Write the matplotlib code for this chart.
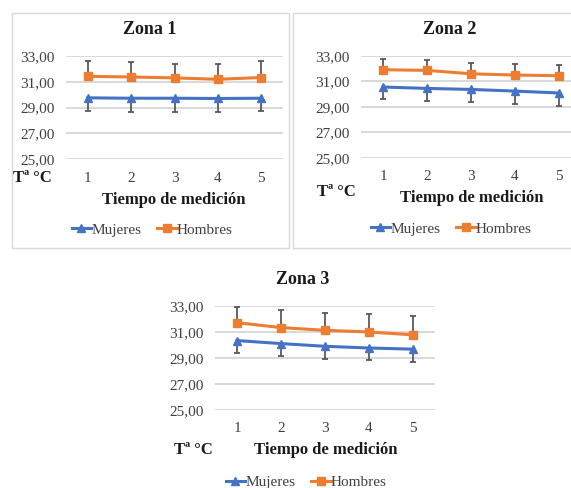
import matplotlib
matplotlib.use("Agg")
import matplotlib.pyplot as plt
from matplotlib.ticker import FuncFormatter
from matplotlib.lines import Line2D
from matplotlib.patches import Rectangle

plt.rcParams['font.family'] = ['Liberation Serif', 'DejaVu Serif']

tiempos = [1, 2, 3, 4, 5]
yticks = [25, 27, 29, 31, 33]

z1_mujeres = [29.75, 29.72, 29.72, 29.70, 29.72]
z1_mujeres_err = [1.03, 1.05, 1.05, 1.08, 1.03]
z1_hombres = [31.42, 31.37, 31.30, 31.19, 31.33]
z1_hombres_err = [1.22, 1.19, 1.08, 1.19, 1.30]

z2_mujeres = [30.56, 30.45, 30.37, 30.24, 30.09]
z2_mujeres_err = [0.97, 1.02, 1.02, 0.99, 1.00]
z2_hombres = [31.92, 31.87, 31.60, 31.50, 31.45]
z2_hombres_err = [0.82, 0.82, 0.88, 0.90, 0.84]

z3_mujeres = [30.34, 30.11, 29.90, 29.77, 29.68]
z3_mujeres_err = [0.97, 0.97, 0.94, 0.96, 1.00]
z3_hombres = [31.72, 31.34, 31.13, 31.00, 30.78]
z3_hombres_err = [1.20, 1.38, 1.33, 1.41, 1.48]

titles = ["Zona 1", "Zona 2", "Zona 3"]
series_names = ["Mujeres", "Hombres"]

W, H = 571, 488
fig = plt.figure(figsize=(W / 100, H / 100), dpi=100)

BLUE = "#4472C4"
ORANGE = "#ED7D31"
ERR = "#595959"
GRID = "#D9D9D9"
TXT = "#404040"


def fx(x):
    return x / W


def fy(y):
    return 1 - y / H


def make_panel(left, right, top, bottom, muj, muj_err, hom, hom_err, title,
               title_xy, tc_xy, xl_xy, leg_xy):
    ax = fig.add_axes([fx(left), fy(bottom), fx(right) - fx(left), fy(top) - fy(bottom)])
    ax.set_xlim(0.5, 5.5)
    ax.set_ylim(25, 33)
    ax.set_yticks(yticks)
    ax.yaxis.set_major_formatter(FuncFormatter(lambda v, p: f"{v:.2f}".replace(".", ",")))
    ax.set_xticks(tiempos)
    ax.set_xticklabels([str(t) for t in tiempos])
    for s in ax.spines.values():
        s.set_visible(False)
    ax.grid(axis='y', color=GRID, lw=1.4)
    ax.set_axisbelow(True)
    ax.tick_params(length=0, labelsize=11, labelcolor=TXT)
    ax.tick_params(axis='y', pad=8)
    ax.tick_params(axis='x', pad=9)

    low = [m - e for m, e in zip(muj, muj_err)]
    high = [h + e for h, e in zip(hom, hom_err)]
    ax.vlines(tiempos, low, muj, color=ERR, lw=1.3, zorder=2, clip_on=False)
    ax.plot(tiempos, low, ls='none', marker='_', ms=5, mew=1.3, color=ERR, zorder=2, clip_on=False)
    ax.vlines(tiempos, hom, high, color=ERR, lw=1.3, zorder=2, clip_on=False)
    ax.plot(tiempos, high, ls='none', marker='_', ms=5, mew=1.3, color=ERR, zorder=2, clip_on=False)

    ax.plot(tiempos, muj, color=BLUE, lw=2.2, marker='^', ms=6, zorder=3, clip_on=False)
    ax.plot(tiempos, hom, color=ORANGE, lw=2.2, marker='s', ms=5.5, zorder=3, clip_on=False)

    fig.text(fx(title_xy[0]), fy(title_xy[1]), title, ha='center', va='center',
             fontsize=13, fontweight='bold', color='#1a1a1a')
    fig.text(fx(tc_xy[0]), fy(tc_xy[1]), "Tª °C", ha='left', va='center',
             fontsize=12, fontweight='bold', color='#1a1a1a')
    fig.text(fx(xl_xy[0]), fy(xl_xy[1]), "Tiempo de medición", ha='center', va='center',
             fontsize=12, fontweight='bold', color='#1a1a1a')

    handles = [Line2D([], [], color=BLUE, lw=2.2, marker='^', ms=6),
               Line2D([], [], color=ORANGE, lw=2.2, marker='s', ms=5.5)]
    fig.legend(handles, series_names, loc='center', bbox_to_anchor=(fx(leg_xy[0]), fy(leg_xy[1])),
               ncol=2, frameon=False, fontsize=11, handlelength=1.3, handletextpad=0.0,
               columnspacing=1.0, labelcolor=TXT)
    return ax


# chart borders
fig.patches.append(Rectangle((fx(12), fy(248)), fx(289) - fx(12), fy(13) - fy(248),
                             transform=fig.transFigure, fill=False, ec=GRID, lw=1.0))
fig.patches.append(Rectangle((fx(293), fy(248)), fx(600) - fx(293), fy(13) - fy(248),
                             transform=fig.transFigure, fill=False, ec=GRID, lw=1.0))

make_panel(66, 283, 56, 159, z1_mujeres, z1_mujeres_err, z1_hombres, z1_hombres_err,
           titles[0], (150, 30), (13, 178), (174, 200), (152, 230))
make_panel(361, 581, 56, 157.7, z2_mujeres, z2_mujeres_err, z2_hombres, z2_hombres_err,
           titles[1], (450, 30), (317, 192), (472, 198), (451, 229))
make_panel(215, 435, 306, 410, z3_mujeres, z3_mujeres_err, z3_hombres, z3_hombres_err,
           titles[2], (303, 280), (174, 450), (326, 450), (306, 482))

fig.savefig("out.png", dpi=100)
